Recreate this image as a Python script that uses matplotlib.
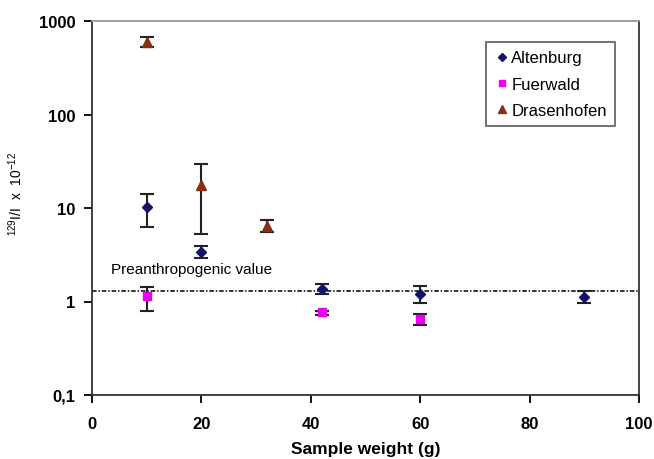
import numpy as np
import matplotlib
matplotlib.use("Agg")
import matplotlib.pyplot as plt
from matplotlib.lines import Line2D
from matplotlib.ticker import FixedLocator, FixedFormatter, NullLocator

plt.rcParams['font.family'] = ['Liberation Sans', 'DejaVu Sans']
plt.rcParams['mathtext.fontset'] = 'custom'
plt.rcParams['mathtext.rm'] = 'Liberation Sans'
plt.rcParams['axes.unicode_minus'] = False

# data (x in g, y in 129I/I x 1e-12)
alt_x = [10, 20, 42, 60, 90]
alt_y = [10.3, 3.37, 1.36, 1.20, 1.13]
alt_lo = [6.25, 2.91, 1.20, 0.96, 0.96]
alt_hi = [14.2, 3.88, 1.54, 1.45, 1.30]

fue_x = [10, 42, 60]
fue_y = [1.15, 0.78, 0.65]
fue_lo = [0.80, 0.72, 0.56]
fue_hi = [1.43, 0.80, 0.73]

dra_x = [10, 20, 32]
dra_y = [600, 17.5, 6.4]
dra_lo = [530, 5.3, 5.5]
dra_hi = [680, 29.9, 7.4]

preanthro = 1.31

yticks = [0.1, 1, 10, 100, 1000]
ytick_labels = ['0,1', '1', '10', '100', '1000']
xticks = [0, 20, 40, 60, 80, 100]

fig = plt.figure(figsize=(6.54, 4.60), dpi=100)
ax = fig.add_axes([92 / 654, 1 - 396 / 460, 547 / 654, 374 / 460])


def errs(y, lo, hi):
    y = np.array(y)
    return [y - np.array(lo), np.array(hi) - y]


alt_col = '#14136b'
fue_col = '#ee00ee'
dra_col = '#8b2d12'

ax.errorbar(alt_x, alt_y, yerr=errs(alt_y, alt_lo, alt_hi), fmt='D', color=alt_col,
            ms=5.5, ecolor='#222222', elinewidth=1.5, capsize=5, capthick=1.5, zorder=3)
ax.errorbar(fue_x, fue_y, yerr=errs(fue_y, fue_lo, fue_hi), fmt='s', color=fue_col,
            ms=6, ecolor='#222222', elinewidth=1.5, capsize=5, capthick=1.5, zorder=3)
ax.errorbar(dra_x, dra_y, yerr=errs(dra_y, dra_lo, dra_hi), fmt='^', color=dra_col,
            ms=6.5, ecolor='#222222', elinewidth=1.5, capsize=5, capthick=1.5, zorder=3)

# preanthropogenic level
ax.axhline(preanthro, color='black', lw=1.1, ls=(0, (3, 1.2, 1, 1.2)), zorder=2)
ax.text(3.5, 2.25, 'Preanthropogenic value', fontsize=11, va='center', ha='left')

ax.set_yscale('log')
ax.set_ylim(0.1, 1000)
ax.set_xlim(0, 100)
ax.yaxis.set_major_locator(FixedLocator(yticks))
ax.yaxis.set_major_formatter(FixedFormatter(ytick_labels))
ax.yaxis.set_minor_locator(NullLocator())
ax.set_xticks(xticks)
ax.tick_params(axis='both', direction='out', length=6, width=1.3, labelsize=12)
ax.tick_params(axis='x', pad=9)
ax.tick_params(axis='y', pad=6)
for lab in ax.get_xticklabels() + ax.get_yticklabels():
    lab.set_fontweight('bold')

ax.set_xlabel('Sample weight (g)', fontsize=12.5, fontweight='bold', labelpad=7)
ax.set_ylabel(r'$^{129}$I/I  x  10$^{-12}$', fontsize=10)
ax.yaxis.set_label_coords(-0.122, 0.54)

for s in ['left', 'bottom', 'right']:
    ax.spines[s].set_linewidth(1.3)
    ax.spines[s].set_color('#333333')
ax.spines['top'].set_color('#999999')
ax.spines['top'].set_linewidth(1.3)

handles = [
    Line2D([], [], ls='none', marker='D', color=alt_col, ms=4.5),
    Line2D([], [], ls='none', marker='s', color=fue_col, ms=5),
    Line2D([], [], ls='none', marker='^', color=dra_col, ms=5.5),
]
leg = ax.legend(handles, ['Altenburg', 'Fuerwald', 'Drasenhofen'],
                loc='upper right', bbox_to_anchor=(1 - 24 / 547, 1 - 21 / 374),
                fontsize=12, frameon=True, fancybox=False, edgecolor='#333333',
                handletextpad=0.1, borderpad=0.5, labelspacing=0.68,
                handlelength=0.9, borderaxespad=0)
leg.get_frame().set_linewidth(1.2)

fig.savefig('out.png', dpi=100)
